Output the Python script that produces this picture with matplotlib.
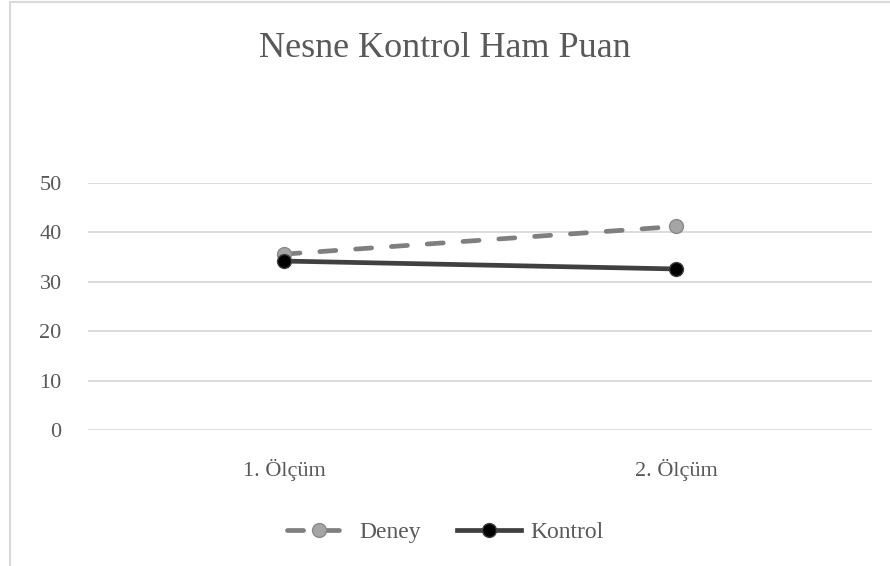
import matplotlib.pyplot as plt
from matplotlib.lines import Line2D

plt.rcParams['font.family'] = ['Liberation Serif', 'DejaVu Serif']

# data
categories = ['1. Ölçüm', '2. Ölçüm']
deney = [35.6, 41.2]
kontrol = [34.2, 32.6]
yticks = [0, 10, 20, 30, 40, 50]

txt = '#595959'

fig = plt.figure(figsize=(8.9, 5.66), dpi=100)
ax = fig.add_axes([88/890, 1 - 430/566, (872 - 88)/890, (430 - 183)/566])

x = range(len(categories))
ax.plot(x, deney, color='#7f7f7f', lw=3.4, ls=(0, (3.4, 4.2)),
        dash_capstyle='round', marker='o', ms=10,
        mfc='#a5a5a5', mec='#8a8a8a', mew=1, label='Deney', zorder=3)
ax.plot(x, kontrol, color='#404040', lw=3.4, marker='o', ms=10,
        mfc='black', mec='#404040', mew=1, label='Kontrol', zorder=4)

ax.set_xlim(-0.5, len(categories) - 0.5)
ax.set_ylim(0, 50)
ax.set_yticks(yticks)
ax.set_xticks(list(x))
ax.set_xticklabels(categories)
ax.grid(axis='y', color='#d9d9d9', lw=1.3)
ax.set_axisbelow(True)
for s in ax.spines.values():
    s.set_visible(False)
ax.tick_params(length=0, labelsize=16, labelcolor=txt)
ax.tick_params(axis='y', pad=19)
ax.tick_params(axis='x', pad=21)

fig.text(0.5, 0.915, 'Nesne Kontrol Ham Puan', ha='center', va='center',
         fontsize=26, color=txt)

leg = fig.legend(loc='center', bbox_to_anchor=(0.5, 1 - 532/566), ncol=2,
                 frameon=False, fontsize=17, handlelength=2.7,
                 columnspacing=1.5, handletextpad=0.4)
for t in leg.get_texts():
    t.set_color(txt)

# border of chart area
fig.add_artist(Line2D([10/890, 10/890], [0, 1 - 2/566], color='#d9d9d9', lw=1.5))
fig.add_artist(Line2D([10/890, 1], [1 - 2/566, 1 - 2/566], color='#d9d9d9', lw=1.5))

fig.savefig('out.png', dpi=100)
